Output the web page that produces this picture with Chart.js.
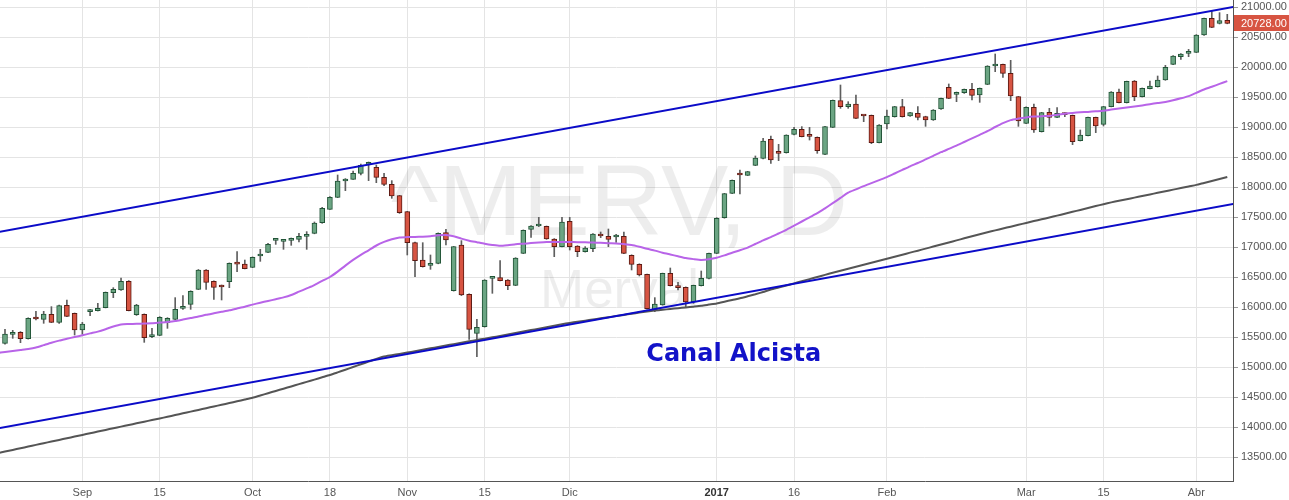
<!DOCTYPE html>
<html>
<head>
<meta charset="utf-8">
<script src="https://cdn.jsdelivr.net/npm/chart.js@4/dist/chart.umd.min.js"></script>
<style>
html,body{margin:0;padding:0;background:#fff;}
#wrap{width:1289px;height:500px;position:relative;}
canvas{display:block;}
</style>
</head>
<body>
<div id="wrap"><canvas id="c" width="1289" height="500"></canvas></div>
<script>
// ---- categories: trading days ----
const dates = [
"2016-08-18","2016-08-19","2016-08-22","2016-08-23","2016-08-24","2016-08-25","2016-08-26","2016-08-29","2016-08-30","2016-08-31",
"2016-09-01","2016-09-02","2016-09-05","2016-09-06","2016-09-07","2016-09-08","2016-09-09","2016-09-12","2016-09-13","2016-09-14",
"2016-09-15","2016-09-16","2016-09-19","2016-09-20","2016-09-21","2016-09-22","2016-09-23","2016-09-26","2016-09-27","2016-09-28",
"2016-09-29","2016-09-30","2016-10-03","2016-10-04","2016-10-05","2016-10-06","2016-10-07","2016-10-11","2016-10-12","2016-10-13",
"2016-10-14","2016-10-17","2016-10-18","2016-10-19","2016-10-20","2016-10-21","2016-10-24","2016-10-25","2016-10-26","2016-10-27",
"2016-10-28","2016-10-31","2016-11-01","2016-11-02","2016-11-03","2016-11-04","2016-11-07","2016-11-08","2016-11-09","2016-11-10",
"2016-11-11","2016-11-14","2016-11-15","2016-11-16","2016-11-17","2016-11-18","2016-11-21","2016-11-22","2016-11-23","2016-11-24",
"2016-11-25","2016-11-29","2016-11-30","2016-12-01","2016-12-02","2016-12-05","2016-12-06","2016-12-07","2016-12-12","2016-12-13",
"2016-12-14","2016-12-15","2016-12-16","2016-12-19","2016-12-20","2016-12-21","2016-12-22","2016-12-23","2016-12-26","2016-12-27",
"2016-12-28","2016-12-29","2017-01-02","2017-01-03","2017-01-04","2017-01-05","2017-01-06","2017-01-09","2017-01-10","2017-01-11",
"2017-01-12","2017-01-13","2017-01-16","2017-01-17","2017-01-18","2017-01-19","2017-01-20","2017-01-23","2017-01-24","2017-01-25",
"2017-01-26","2017-01-27","2017-01-30","2017-01-31","2017-02-01","2017-02-02","2017-02-03","2017-02-06","2017-02-07","2017-02-08",
"2017-02-09","2017-02-10","2017-02-13","2017-02-14","2017-02-15","2017-02-16","2017-02-17","2017-02-20","2017-02-21","2017-02-22",
"2017-02-23","2017-02-24","2017-03-01","2017-03-02","2017-03-03","2017-03-06","2017-03-07","2017-03-08","2017-03-09","2017-03-10",
"2017-03-13","2017-03-14","2017-03-15","2017-03-16","2017-03-17","2017-03-20","2017-03-21","2017-03-22","2017-03-23","2017-03-27",
"2017-03-28","2017-03-29","2017-03-30","2017-03-31","2017-04-03","2017-04-04","2017-04-05","2017-04-06","2017-04-07"
];

// ---- OHLC series ----
const openV = [
15394,15544,15578,15472,15811,15794,15878,15744,16028,15894,
15617,15922,15939,15989,16239,16283,16428,15872,15878,15506,
15528,15739,15794,15978,16044,16294,16617,16428,16339,16422,
16722,16717,16661,16850,16911,17111,17094,17111,17128,17178,
17228,17406,17628,17828,18100,18128,18228,18378,18328,18161,
18044,17856,17589,17072,16783,16694,16728,17239,16272,17033,
16211,15561,15672,16478,16489,16450,16361,16894,17294,17350,
17344,17133,17006,17428,17017,16922,16972,17200,17178,17167,
17178,16861,16711,16544,15950,16033,16561,16356,16328,16089,
16356,16478,16894,17488,17894,18206,18194,18361,18478,18794,
18565,18572,18878,18961,18850,18828,18544,18994,19439,19339,
19383,19189,19194,18739,19050,19172,19339,19183,19228,19172,
19117,19300,19661,19544,19572,19628,19533,19711,20017,20044,
19894,19506,19061,19328,18922,19244,19161,19228,19194,18772,
18856,19161,19044,19339,19583,19406,19767,19506,19639,19672,
19783,20044,20172,20228,20244,20533,20811,20728,20778
];
const highV = [
15628,15611,15590,15820,15928,15928,16006,16033,16117,15900,
15744,15961,16061,16250,16322,16483,16440,16045,15885,15644,
15839,15822,16156,16189,16270,16625,16625,16435,16367,16735,
16922,16783,16835,16961,17061,17139,17125,17150,17228,17256,
17417,17661,17839,18200,18140,18267,18383,18417,18367,18228,
18106,17860,17595,17080,17072,16867,17235,17294,17010,17106,
16220,15794,16455,16490,16772,16455,16822,17285,17356,17494,
17350,17140,17494,17494,17022,17006,17222,17250,17300,17211,
17250,16870,16720,16550,16156,16565,16650,16411,16335,16365,
16600,16900,17489,17894,18117,18283,18261,18517,18811,18850,
18711,18870,18994,19006,18994,18835,19010,19450,19700,19422,
19533,19194,19200,19040,19283,19345,19461,19245,19339,19180,
19290,19483,19717,19583,19633,19728,19650,20022,20217,20050,
20111,19510,19335,19383,19244,19311,19322,19235,19200,18950,
19165,19165,19345,19590,19633,19765,19775,19650,19767,19850,
20028,20190,20222,20294,20540,20815,20928,20906,20878
];
const lowV = [
15380,15478,15405,15465,15783,15728,15740,15728,15840,15533,
15544,15856,15933,15985,16156,16278,15935,15860,15411,15489,
15522,15644,15790,15961,15961,16290,16294,16128,16117,16322,
16589,16635,16655,16761,16905,17044,16961,17028,17083,16961,
17220,17395,17625,17822,17939,18125,18200,18106,18072,18022,
17811,17560,16867,16506,16665,16628,16720,17033,16265,16190,
15461,15172,15665,16228,16435,16289,16355,16890,17161,17340,
17128,16839,17000,16950,16839,16915,16922,17156,17006,17078,
16890,16617,16517,15965,15922,16030,16350,16283,16006,16061,
16350,16470,16890,17480,17890,17883,18190,18355,18470,18394,
18439,18565,18870,18835,18783,18561,18540,18990,19311,19311,
19140,19089,18722,18735,18967,19165,19165,19178,19117,19011,
19110,19295,19472,19422,19560,19450,19411,19705,19922,19828,
19439,19011,19055,18911,18916,19017,19155,19172,18706,18767,
18850,18906,19017,19335,19400,19400,19439,19500,19635,19665,
19778,20040,20128,20172,20240,20528,20655,20717,20720
];
const closeV = [
15550,15572,15472,15811,15800,15883,15744,16022,15844,15617,
15717,15944,15978,16244,16294,16428,15939,16033,15489,15511,
15828,15811,15961,16006,16261,16617,16411,16328,16333,16728,
16715,16639,16828,16878,17044,17120,17117,17139,17178,17211,
17400,17644,17828,18100,18133,18228,18361,18383,18161,18044,
17850,17572,17072,16772,16672,16728,17228,17117,17006,16200,
15628,15661,16450,16485,16439,16356,16817,17278,17350,17356,
17133,17006,17417,17006,16922,16983,17217,17183,17128,17172,
16894,16711,16533,15972,16050,16561,16356,16322,16083,16361,
16478,16894,17478,17889,18112,18200,18256,18483,18767,18450,
18561,18867,18961,18839,18844,18606,19006,19444,19339,19383,
19144,19183,18739,19033,19183,19339,19172,19239,19161,19117,
19283,19478,19478,19578,19628,19528,19644,20017,20044,19894,
19517,19100,19328,18950,19239,19161,19228,19206,18756,18867,
19161,19017,19339,19583,19406,19761,19506,19644,19683,19783,
19994,20183,20217,20256,20533,20811,20661,20772,20728
];

// ---- moving averages ----
const maFast = [
15250,15266,15283,15300,15325,15365,15405,15440,15470,15500,
15528,15560,15590,15630,15675,15710,15716,15720,15725,15730,
15740,15750,15765,15790,15815,15840,15870,15895,15920,15945,
15975,16005,16040,16072,16100,16130,16160,16200,16255,16310,
16365,16435,16500,16590,16690,16785,16870,16945,17025,17085,
17130,17160,17165,17168,17172,17180,17195,17200,17180,17140,
17105,17080,17055,17035,17020,17030,17045,17055,17065,17075,
17083,17085,17085,17083,17080,17078,17075,17070,17063,17058,
17048,17035,17005,16970,16940,16905,16875,16845,16815,16798,
16785,16795,16820,16860,16905,16945,16990,17050,17110,17165,
17225,17285,17355,17425,17495,17563,17645,17730,17818,17905,
17960,18015,18065,18115,18165,18225,18285,18345,18400,18460,
18520,18580,18635,18690,18750,18810,18870,18930,19000,19065,
19115,19140,19160,19173,19180,19185,19205,19222,19235,19244,
19252,19262,19272,19290,19307,19325,19342,19360,19380,19400,
19418,19445,19478,19515,19570,19625,19670,19718,19765
];
const maSlow = [
13590,13618,13646,13674,13702,13730,13758,13785,13812,13840,
13868,13896,13924,13951,13979,14006,14033,14061,14088,14116,
14143,14170,14199,14228,14256,14285,14313,14342,14370,14399,
14428,14457,14487,14525,14563,14601,14638,14676,14714,14752,
14790,14828,14866,14910,14955,15000,15045,15089,15134,15174,
15196,15218,15240,15263,15287,15311,15334,15358,15381,15405,
15428,15451,15473,15496,15517,15541,15566,15590,15615,15639,
15663,15688,15712,15735,15754,15773,15792,15811,15830,15849,
15868,15888,15907,15926,15941,15954,15967,15980,15993,16006,
16020,16040,16060,16088,16117,16145,16178,16212,16250,16291,
16325,16359,16394,16430,16465,16500,16536,16571,16604,16638,
16671,16704,16738,16771,16804,16839,16872,16906,16939,16973,
17007,17042,17076,17110,17145,17179,17213,17246,17277,17308,
17339,17370,17401,17432,17462,17491,17523,17555,17587,17618,
17650,17682,17714,17744,17771,17797,17823,17850,17876,17903,
17929,17956,17982,18009,18035,18068,18100,18133,18166
];

// ---- channel (trend lines) anchors: [date, value] ----
const channelUpper = [["2016-08-18", 17271], ["2017-04-07", 20981]];
const channelLower = [["2016-08-18", 13998], ["2017-04-07", 17701]];

// ---- tick labels ----
const tickLabels = [
["2016-09-01","Sep"],["2016-09-15","15"],["2016-10-03","Oct"],["2016-10-18","18"],
["2016-11-01","Nov"],["2016-11-15","15"],["2016-12-01","Dic"],["2017-01-02","2017"],
["2017-01-16","16"],["2017-02-01","Feb"],["2017-03-01","Mar"],["2017-03-15","15"],["2017-04-03","Abr"]
];
const yTicks = [13500,14000,14500,15000,15500,16000,16500,17000,17500,18000,18500,19000,19500,20000,20500,21000];
const watermark = ["^MERV, D", "Merval"];
const annotationText = "Canal Alcista";

// ---------------- build ----------------
const X_MIN = -0.646, X_MAX = 158.74;
const Y_MIN = 13100, Y_MAX = 21116.67;
const UP = '#6ba583', UP_B = '#225437', DN = '#d75442', DN_B = '#5b1a13', WICK = '#5e5e5e';
const FONT = '"Liberation Sans", Arial, sans-serif';

const idx = d => dates.indexOf(d);
const isUp = i => closeV[i] >= openV[i];
function extend(anchors) {
  const [[d0, v0], [d1, v1]] = anchors;
  const i0 = idx(d0), i1 = idx(d1);
  const s = (v1 - v0) / (i1 - i0);
  return [{x: X_MIN - 2, y: v0 + s * (X_MIN - 2 - i0)}, {x: X_MAX + 2, y: v0 + s * (X_MAX + 2 - i0)}];
}
// MA line points; the line is carried on to the left edge along its first segment
function maPoints(arr) {
  const pts = arr.map((v, i) => ({x: i, y: v}));
  const s = arr[1] - arr[0];
  pts.unshift({x: X_MIN - 0.5, y: arr[0] + s * (X_MIN - 0.5)});
  return pts;
}
const labelMap = {};
tickLabels.forEach(([d, l]) => { labelMap[idx(d)] = l; });

const bgPlugin = {
  id: 'bgWatermark',
  beforeDatasetsDraw(chart) {
    const {ctx, chartArea: a} = chart;
    ctx.save();
    ctx.beginPath(); ctx.rect(a.left, a.top, a.right - a.left, a.bottom - a.top); ctx.clip();
    ctx.fillStyle = 'rgba(0,0,0,0.07)';
    ctx.textAlign = 'center'; ctx.textBaseline = 'alphabetic';
    const cx = (a.left + a.right) / 2 + 3;
    ctx.font = '101px ' + FONT;
    ctx.fillText(watermark[0], cx, 235);
    ctx.font = '53px ' + FONT;
    ctx.fillText(watermark[1], cx, 307);
    ctx.restore();
  }
};
const fgPlugin = {
  id: 'fgLabels',
  afterDraw(chart) {
    const {ctx, chartArea: a, scales: {x, y}} = chart;
    ctx.save();
    // annotation
    ctx.fillStyle = '#1212c8';
    ctx.font = 'bold 24px "DejaVu Sans", Verdana, sans-serif';
    ctx.textAlign = 'left'; ctx.textBaseline = 'middle';
    ctx.fillText(annotationText, x.getPixelForValue(82.9), y.getPixelForValue(15200));
    // last price tag
    const last = closeV[closeV.length - 1];
    const py = y.getPixelForValue(last);
    ctx.fillStyle = DN;
    ctx.fillRect(a.right + 1, Math.round(py) - 8, chart.width - a.right - 1, 16);
    ctx.fillStyle = '#ffffff';
    ctx.font = '11px ' + FONT;
    ctx.textAlign = 'left'; ctx.textBaseline = 'middle';
    ctx.fillText(last.toFixed(2), a.right + 8, Math.round(py) + 0.5);
    ctx.restore();
  }
};

new Chart(document.getElementById('c'), {
  type: 'bar',
  data: {
    datasets: [
      { type: 'line', label: 'upper', data: extend(channelUpper), borderColor: '#0b0bc8', borderWidth: 2,
        pointRadius: 0, order: -2 },
      { type: 'line', label: 'lower', data: extend(channelLower), borderColor: '#0b0bc8', borderWidth: 2,
        pointRadius: 0, order: -2 },
      { type: 'line', label: 'MA fast', data: maPoints(maFast), borderColor: '#b864e8',
        borderWidth: 2, pointRadius: 0, tension: 0.2, order: -1 },
      { type: 'line', label: 'MA slow', data: maPoints(maSlow), borderColor: '#555555',
        borderWidth: 2, pointRadius: 0, tension: 0.2, order: -1 },
      { type: 'bar', label: 'body', data: dates.map((d, i) => ({x: i, y: [openV[i], closeV[i]]})),
        grouped: false, maxBarThickness: 5, categoryPercentage: 1, barPercentage: 1,
        borderWidth: 1, borderSkipped: false, minBarLength: 2,
        backgroundColor: c => isUp(c.dataIndex) ? UP : DN,
        borderColor: c => isUp(c.dataIndex) ? UP_B : DN_B, order: 1 },
      { type: 'bar', label: 'wick', data: dates.map((d, i) => ({x: i, y: [lowV[i], highV[i]]})),
        grouped: false, maxBarThickness: 1, categoryPercentage: 1, barPercentage: 1,
        borderWidth: 0, backgroundColor: WICK, order: 2 }
    ]
  },
  options: {
    responsive: false, animation: false, events: [],
    layout: { padding: 0 },
    plugins: { legend: { display: false }, tooltip: { enabled: false } },
    scales: {
      x: {
        type: 'linear', position: 'bottom', min: X_MIN, max: X_MAX, offset: false,
        afterBuildTicks: s => { s.ticks = tickLabels.map(([d]) => ({value: idx(d)})); },
        afterFit: s => { s.height = 19; s.paddingLeft = 0; s.paddingRight = 0; },
        grid: { color: '#e4e4e4', drawTicks: false, offset: false },
        border: { color: '#555555', width: 1 },
        ticks: {
          autoSkip: false, maxRotation: 0, padding: 5,
          callback: v => labelMap[v] ?? '',
          color: c => (c.tick && c.tick.label === '2017') ? '#333333' : '#555555',
          font: c => ({ family: FONT, size: 11, weight: (c.tick && c.tick.label === '2017') ? 'bold' : 'normal' })
        }
      },
      y: {
        type: 'linear', position: 'right', min: Y_MIN, max: Y_MAX,
        afterBuildTicks: s => { s.ticks = yTicks.map(v => ({value: v})); },
        afterFit: s => { s.width = 56; s.paddingTop = 0; s.paddingBottom = 0; },
        grid: { color: '#e4e4e4', tickLength: 5, tickColor: '#999999' },
        border: { color: '#555555', width: 1 },
        ticks: { padding: 3, color: '#555555', font: { family: FONT, size: 11 },
                 callback: v => Number(v).toFixed(2) }
      }
    }
  },
  plugins: [bgPlugin, fgPlugin]
});
</script>
</body>
</html>
